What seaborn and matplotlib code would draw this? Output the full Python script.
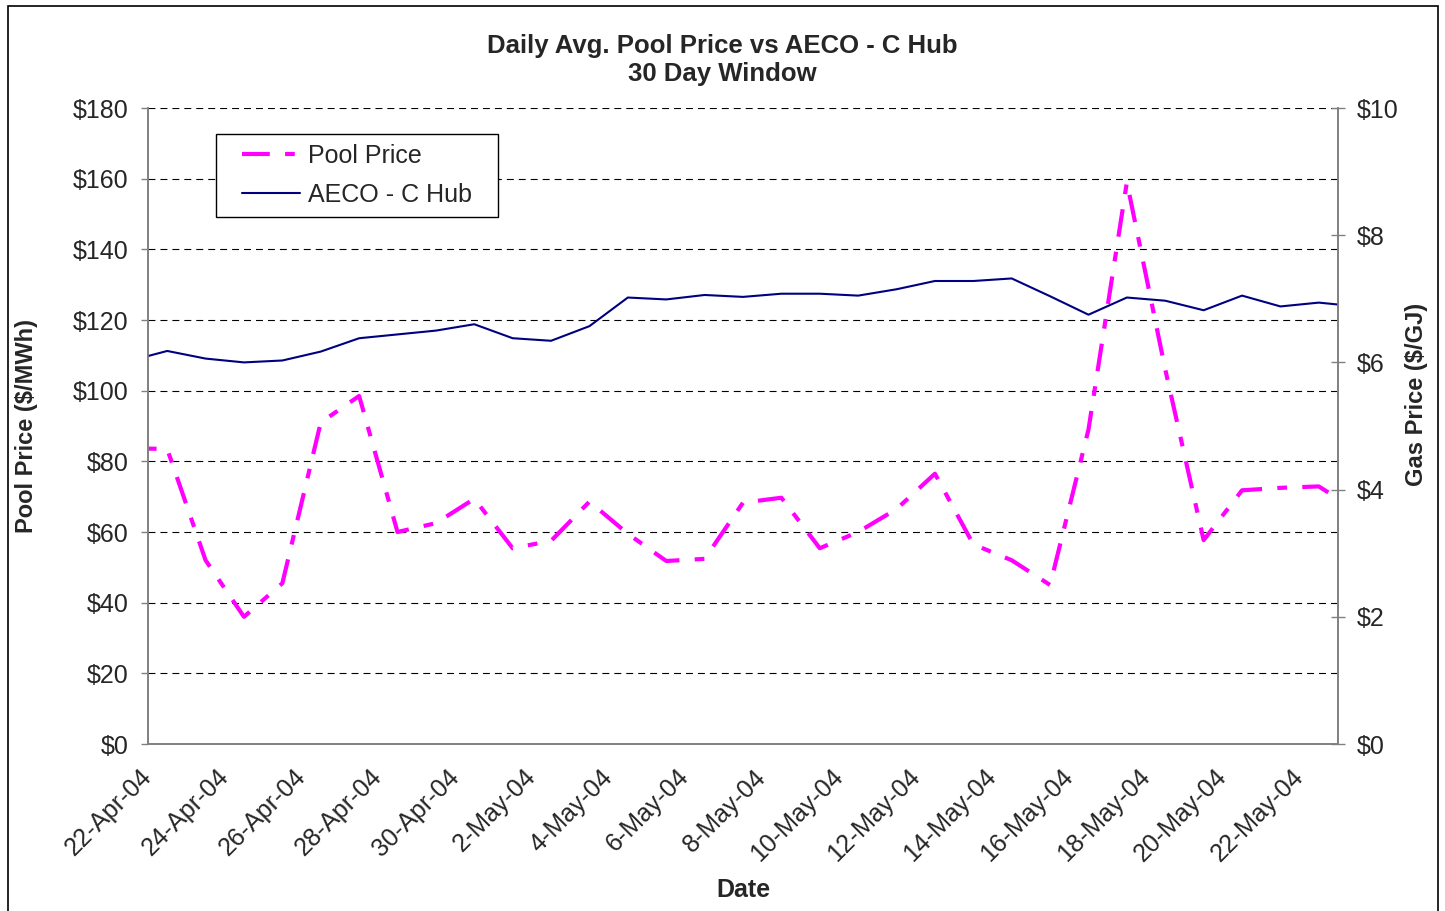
import numpy as np
import pandas as pd
import matplotlib
matplotlib.use("Agg")
import matplotlib.pyplot as plt
import matplotlib.dates as mdates
import matplotlib.ticker as mticker
from matplotlib.lines import Line2D
from matplotlib.legend_handler import HandlerLine2D
from matplotlib.patches import Rectangle
import seaborn as sns

# ---------------------------------------------------------------------------
# Data. One value per day, plotted at mid-day.
# 21-Apr and 23-May sit just outside the axis window and get clipped.
# ---------------------------------------------------------------------------

DATES = pd.date_range("2004-04-21", "2004-05-23", freq="D")

POOL_PRICE = [
    83.7, 83.5, 52.0, 36.0, 45.5, 91.0, 98.5, 60.0, 62.5, 69.4,   # 21-30 Apr
    55.4, 57.5, 68.6, 59.5, 51.8, 52.4, 68.3, 69.7, 55.4, 60.0,   # 1-10 May
    66.5, 76.5, 56.5, 52.0, 45.0, 89.0, 159.0, 106.0, 57.7, 71.8,  # 11-20 May
    72.5, 72.9, 66.0,                                              # 21-23 May
]

AECO_C_HUB = [
    6.02, 6.18, 6.06, 6.00, 6.03, 6.17, 6.38, 6.44, 6.50, 6.60,
    6.38, 6.34, 6.57, 7.02, 6.99, 7.06, 7.03, 7.08, 7.08, 7.05,
    7.15, 7.28, 7.28, 7.32, 7.04, 6.75, 7.02, 6.97, 6.82, 7.05,
    6.88, 6.94, 6.88,
]

X_START, X_END = "2004-04-22", "2004-05-23"
X_TICKS = pd.date_range("2004-04-22", "2004-05-22", freq="2D")
POOL_TICKS = list(range(0, 181, 20))
GAS_TICKS = list(range(0, 11, 2))

TITLE = "Daily Avg. Pool Price vs AECO - C Hub\n30 Day Window"
POOL_COLOR = "#FF00FF"
GAS_COLOR = "#000080"
AXIS_GREY = "#808080"
FS = 18

# ---------------------------------------------------------------------------
# Style
# ---------------------------------------------------------------------------

sns.set_style("white")
plt.rcParams["font.family"] = ["Liberation Sans", "DejaVu Sans"]
plt.rcParams["lines.scale_dashes"] = False

df = pd.DataFrame({
    "Date": DATES + pd.Timedelta(hours=12),
    "Pool Price": POOL_PRICE,
    "AECO - C Hub": AECO_C_HUB,
})

W, H = 1445, 911
fig = plt.figure(figsize=(W / 100, H / 100), dpi=100)
ax = fig.add_axes([148 / W, 1 - 744 / H, (1338 - 148) / W, (744 - 108) / H])
ax2 = ax.twinx()

# ---------------------------------------------------------------------------
# Lines
# ---------------------------------------------------------------------------

sns.lineplot(data=df, x="Date", y="Pool Price", ax=ax, color=POOL_COLOR,
             linewidth=3.0, legend=False)
pool_line = ax.lines[-1]
pool_line.set_dashes([20, 11, 7, 11])

sns.lineplot(data=df, x="Date", y="AECO - C Hub", ax=ax2, color=GAS_COLOR,
             linewidth=1.5, legend=False)
gas_line = ax2.lines[-1]

# ---------------------------------------------------------------------------
# Axes
# ---------------------------------------------------------------------------

ax.set_xlim(pd.Timestamp(X_START), pd.Timestamp(X_END))
ax.set_ylim(0, 180)
ax2.set_ylim(0, 10)

ax.set_xticks(X_TICKS)
ax.xaxis.set_major_formatter(mdates.DateFormatter("%-d-%b-%y"))
ax.set_yticks(POOL_TICKS)
ax2.set_yticks(GAS_TICKS)
ax.yaxis.set_major_formatter(mticker.StrMethodFormatter("${x:.0f}"))
ax2.yaxis.set_major_formatter(mticker.StrMethodFormatter("${x:.0f}"))

ax.yaxis.grid(True, color="black", linestyle=(0, (5, 3.6)), linewidth=0.8)
ax.xaxis.grid(False)
ax2.grid(False)

for a in (ax, ax2):
    a.spines["top"].set_visible(False)
    for s in ("left", "right", "bottom"):
        a.spines[s].set_color(AXIS_GREY)
        a.spines[s].set_linewidth(1.2)

ax.tick_params(axis="y", direction="out", length=5, width=1, color=AXIS_GREY,
               labelsize=FS, pad=9)
ax.tick_params(axis="x", direction="out", length=5, width=1, color=AXIS_GREY,
               labelsize=FS, pad=16)
ax2.tick_params(axis="y", direction="inout", length=9.5, width=1, color=AXIS_GREY,
                labelsize=FS, pad=9)
plt.setp(ax.get_xticklabels(), rotation=45, ha="right", va="center",
         rotation_mode="anchor")

ax.set_xlabel("Date", fontsize=FS, fontweight="bold", va="center")
ax.xaxis.set_label_coords(0.5, (744 - 890) / 636)
ax.set_ylabel("Pool Price ($/MWh)", fontsize=17, fontweight="bold", va="center")
ax.yaxis.set_label_coords((27 - 148) / 1190, (744 - 426) / 636)
ax2.set_ylabel("Gas Price ($/GJ)", fontsize=17, fontweight="bold", va="center")
ax2.yaxis.set_label_coords((1417 - 148) / 1190, (744 - 394) / 636)

# ---------------------------------------------------------------------------
# Legend, title, frame
# ---------------------------------------------------------------------------

leg_top = (744 - 134) / 636
leg = ax.legend(
    handles=[pool_line, gas_line], labels=["Pool Price", "AECO - C Hub"],
    loc="upper left", bbox_to_anchor=(67.7 / 1190, leg_top - 0.1, 282 / 1190, 0.1),
    mode="expand", borderaxespad=0, borderpad=0.4, labelspacing=0.6,
    handlelength=2.97, handletextpad=0.32, fontsize=FS,
    frameon=True, fancybox=False, framealpha=1, edgecolor="black",
    handler_map={Line2D: HandlerLine2D(xpad=0.65)},
)
leg.get_frame().set_linewidth(1.0)

fig.suptitle(TITLE, x=0.5, y=1 - 60 / H, va="center", fontsize=18.5,
             fontweight="bold", linespacing=1.25)

fig.add_artist(Rectangle((8 / W, -0.05), (1438 - 8) / W, 1 - 6 / H + 0.05,
                         transform=fig.transFigure, fill=False,
                         edgecolor="black", linewidth=1.2))

fig.savefig("out.png", dpi=100)
